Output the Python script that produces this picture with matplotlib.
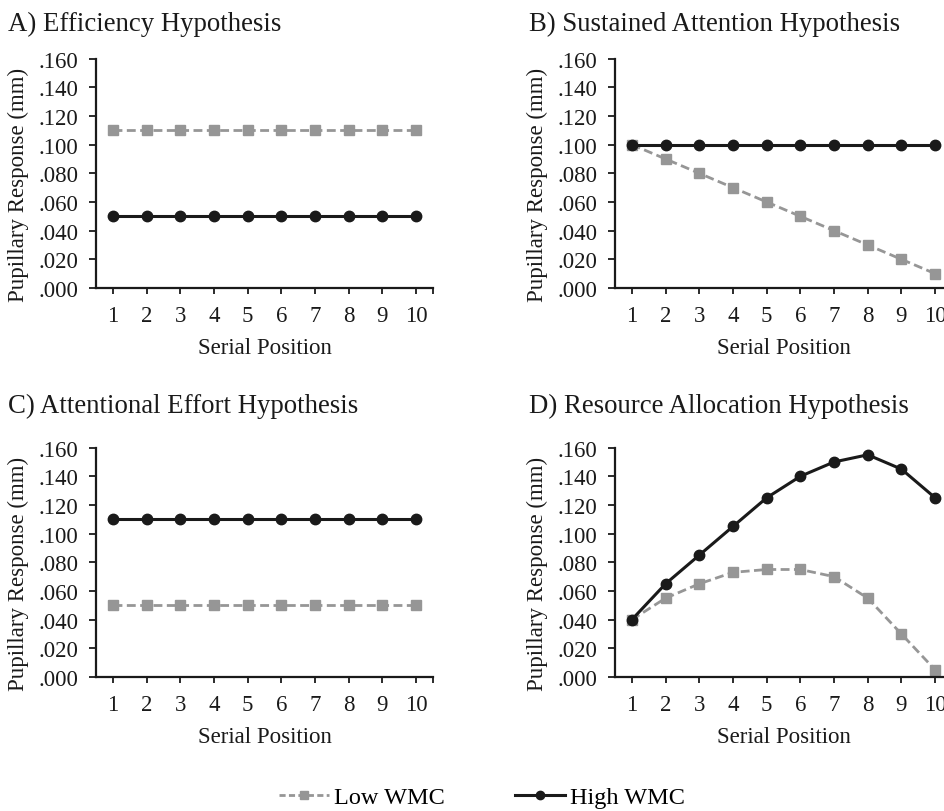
import matplotlib.pyplot as plt
from matplotlib.ticker import FuncFormatter
from matplotlib.lines import Line2D

plt.rcParams['font.family'] = ['Liberation Serif', 'DejaVu Serif']

positions = [1, 2, 3, 4, 5, 6, 7, 8, 9, 10]

titles = ["A) Efficiency Hypothesis", "B) Sustained Attention Hypothesis",
          "C) Attentional Effort Hypothesis", "D) Resource Allocation Hypothesis"]

low_a = [0.110] * 10
high_a = [0.050] * 10
low_b = [0.100, 0.090, 0.080, 0.070, 0.060, 0.050, 0.040, 0.030, 0.020, 0.010]
high_b = [0.100] * 10
low_c = [0.050] * 10
high_c = [0.110] * 10
low_d = [0.040, 0.055, 0.065, 0.073, 0.075, 0.075, 0.070, 0.055, 0.030, 0.005]
high_d = [0.040, 0.065, 0.085, 0.105, 0.125, 0.140, 0.150, 0.155, 0.145, 0.125]

low_series = [low_a, low_b, low_c, low_d]
high_series = [high_a, high_b, high_c, high_d]

GRAY = '#969696'
BLACK = '#1a1a1a'

fig = plt.figure(figsize=(9.45, 8.12), dpi=100)

# left, bottom of each panel (fig fraction)
boxes = [(0.1016, 0.6441), (0.6508, 0.6441), (0.1016, 0.1650), (0.6508, 0.1650)]
w, h = 0.3566, 0.2825
# title anchors (fig fraction)
title_xy = [(0.008, 0.970), (0.560, 0.970), (0.008, 0.499), (0.560, 0.499)]

fmt = FuncFormatter(lambda v, p: f"{v:.3f}".lstrip("0"))

for i, (x0, y0) in enumerate(boxes):
    ax = fig.add_axes([x0, y0, w, h])
    ax.plot(positions, low_series[i], color=GRAY, lw=2.0, ls=(0, (3.2, 1.6)),
            marker='s', ms=6.8, mec=GRAY, mfc=GRAY)
    ax.plot(positions, high_series[i], color=BLACK, lw=2.2,
            marker='o', ms=7.5, mec=BLACK, mfc=BLACK)
    ax.set_xlim(0.5, 10.5)
    ax.set_ylim(0, 0.16)
    ax.set_yticks([0, 0.02, 0.04, 0.06, 0.08, 0.10, 0.12, 0.14, 0.16])
    ax.yaxis.set_major_formatter(fmt)
    ax.set_xticks(positions)
    ax.set_xticks([10.5], minor=True)
    for s in ['top', 'right']:
        ax.spines[s].set_visible(False)
    for s in ['left', 'bottom']:
        ax.spines[s].set_linewidth(1.6)
        ax.spines[s].set_color(BLACK)
    ax.tick_params(axis='both', which='both', direction='out',
                   width=1.3, color=BLACK, labelsize=16.5, labelcolor=BLACK)
    ax.tick_params(axis='x', which='both', length=4, pad=8.5)
    ax.tick_params(axis='y', length=5, pad=7.5)
    ax.set_xlabel("Serial Position", fontsize=16.5, color=BLACK, labelpad=8)
    ax.set_ylabel("Pupillary Response (mm)", fontsize=16.5, color=BLACK)
    ax.yaxis.set_label_coords(-0.198, 0.454)
    fig.text(title_xy[i][0], title_xy[i][1], titles[i], fontsize=19.3,
             color=BLACK, ha='left', va='center')

handles = [
    Line2D([], [], color=GRAY, lw=2.0, ls=(0, (2.2, 1.2)), marker='s', ms=6,
           mec=GRAY, mfc=GRAY),
    Line2D([], [], color=BLACK, lw=2.2, marker='o', ms=6, mec=BLACK, mfc=BLACK),
]
fig.legend(handles, ["Low WMC", "High WMC"], loc='center', ncol=2,
           bbox_to_anchor=(0.510, 0.017), frameon=False, fontsize=17.5,
           handlelength=2.06, handletextpad=0.2, columnspacing=2.9)

fig.savefig("out.png", dpi=100, facecolor='white')
